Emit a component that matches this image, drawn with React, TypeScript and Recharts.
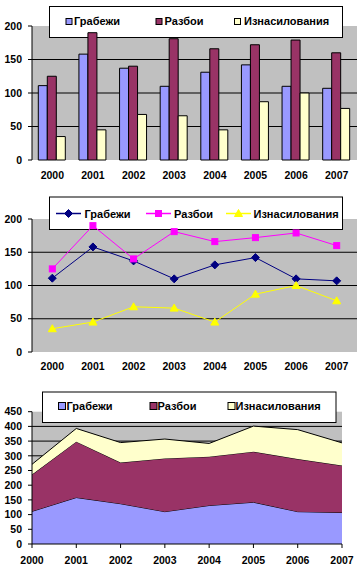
import React from 'react';
import {
  BarChart,
  Bar,
  LineChart,
  Line,
  AreaChart,
  Area,
  XAxis,
  YAxis,
  CartesianGrid,
  Customized,
} from 'recharts';

const years = ['2000', '2001', '2002', '2003', '2004', '2005', '2006', '2007'];
const grabezhi = [111, 158, 137, 110, 131, 142, 110, 107];
const razboi = [125, 190, 140, 181, 166, 172, 179, 160];
const iznasilovaniya = [35, 45, 68, 66, 45, 87, 100, 77];
const seriesNames = ['Грабежи', 'Разбои', 'Изнасилования'];
const ticks200 = [0, 50, 100, 150, 200];
const ticks450 = [0, 50, 100, 150, 200, 250, 300, 350, 400, 450];
const edgeTicks = [0, 1, 2, 3, 4, 5, 6, 7, 8];

const data = years.map((year, i) => ({
  year,
  g: grabezhi[i],
  r: razboi[i],
  z: iznasilovaniya[i],
}));

const FONT = '"Liberation Sans", Arial, sans-serif';
const BAR_COLORS = ['#9999FF', '#993366', '#FFFFCC'];
const LINE_COLORS = ['#000080', '#FF00FF', '#FFFF00'];
const tickStyle = { fill: '#000', fontSize: 10.5, fontWeight: 'bold', fontFamily: FONT };
const blank = () => '';

// markers for the line chart
const Diamond = ({ cx, cy, color }: any) => (
  <polygon points={`${cx},${cy - 4} ${cx + 4},${cy} ${cx},${cy + 4} ${cx - 4},${cy}`} fill={color} stroke={color} />
);
const Square = ({ cx, cy, color }: any) => (
  <rect x={cx - 3} y={cy - 3} width={6} height={6} fill={color} stroke={color} />
);
const Triangle = ({ cx, cy, color }: any) => (
  <polygon points={`${cx},${cy - 4} ${cx + 4},${cy + 3} ${cx - 4},${cy + 3}`} fill={color} stroke={color} />
);
const MARKERS = [Diamond, Square, Triangle];

// legend drawn inside the svg, so series can sit on top of it
const LegendBox = ({ box, items, textY, kind }: any) => (
  <g>
    <rect x={box.x + 0.5} y={box.y + 0.5} width={box.w} height={box.h} fill="#fff" stroke="#000" />
    {items.map((it: any, i: number) => {
      const Marker = MARKERS[i];
      return (
        <g key={i}>
          {kind === 'square' ? (
            <rect x={it.mx + 0.5} y={it.my + 0.5} width={it.ms} height={it.ms} fill={BAR_COLORS[i]} stroke="#000" />
          ) : (
            <g>
              <line x1={it.mx} x2={it.mx + 25} y1={it.my} y2={it.my} stroke={LINE_COLORS[i]} strokeWidth={1.5} />
              <Marker cx={it.mx + 12.5} cy={it.my} color={LINE_COLORS[i]} />
            </g>
          )}
          <text x={it.tx} y={textY} fontFamily={FONT} fontSize={11} fontWeight="bold" fill="#000">
            {seriesNames[i]}
          </text>
        </g>
      );
    })}
  </g>
);

const legendBar = {
  box: { x: 49, y: 6, w: 293, h: 31 },
  textY: 25,
  items: [
    { mx: 65.5, my: 18, ms: 6, tx: 74 },
    { mx: 155.5, my: 18, ms: 6, tx: 164.5 },
    { mx: 234, my: 18, ms: 6, tx: 244 },
  ],
};
const legendLine = {
  box: { x: 49, y: 6.5, w: 293, h: 32.5 },
  textY: 27.5,
  items: [
    { mx: 56, my: 23.5, tx: 84.5 },
    { mx: 146, my: 23.5, tx: 174 },
    { mx: 226, my: 23.5, tx: 253.5 },
  ],
};
const legendArea = {
  box: { x: 42, y: 11.5, w: 293.5, h: 30.5 },
  textY: 30,
  items: [
    { mx: 58, my: 22, ms: 7, tx: 66.5 },
    { mx: 149.5, my: 22, ms: 7, tx: 157.5 },
    { mx: 227.5, my: 22, ms: 7, tx: 235.5 },
  ],
};

export default function App() {
  return (
    <div style={{ position: 'absolute', left: 0, top: 0, width: 362, height: 569, background: '#fff' }}>
      {/* Столбчатая диаграмма */}
      <div style={{ position: 'absolute', left: 0, top: 0 }}>
        <BarChart
          width={362}
          height={190}
          data={data}
          margin={{ top: 26, right: 5, bottom: 0, left: 0 }}
          barCategoryGap="15.5%"
          barGap={0}
        >
          <CartesianGrid fill="#C0C0C0" fillOpacity={1} stroke="#000" vertical={false} horizontalValues={[50, 100, 150]} />
          <Customized component={() => <LegendBox {...legendBar} kind="square" />} />
          <XAxis xAxisId="edge" type="number" domain={[0, 8]} ticks={edgeTicks} allowDataOverflow height={0} tickSize={4} tickFormatter={blank} stroke="#000" />
          <XAxis xAxisId="top" orientation="top" type="number" domain={[0, 1]} height={0} tickLine={false} tickFormatter={blank} stroke="#808080" />
          <XAxis xAxisId="cat" dataKey="year" height={30} axisLine={false} tickLine={false} tickSize={0} tickMargin={11.5} tick={tickStyle} interval={0} />
          <YAxis domain={[0, 200]} ticks={ticks200} width={32} tickSize={4} tickMargin={6} stroke="#000" tick={tickStyle} interval={0} />
          <YAxis yAxisId="border" orientation="right" width={0} tick={false} tickLine={false} stroke="#808080" />
          <Bar xAxisId="cat" dataKey="g" fill={BAR_COLORS[0]} stroke="#000" isAnimationActive={false} />
          <Bar xAxisId="cat" dataKey="r" fill={BAR_COLORS[1]} stroke="#000" isAnimationActive={false} />
          <Bar xAxisId="cat" dataKey="z" fill={BAR_COLORS[2]} stroke="#000" isAnimationActive={false} />
        </BarChart>
      </div>

      {/* Линейная диаграмма */}
      <div style={{ position: 'absolute', left: 0, top: 190 }}>
        <LineChart width={362} height={190} data={data} margin={{ top: 29, right: 5, bottom: 0, left: 0 }}>
          <CartesianGrid fill="#C0C0C0" fillOpacity={1} stroke="#000" vertical={false} horizontalValues={[50, 100, 150]} />
          <Customized component={() => <LegendBox {...legendLine} kind="line" />} />
          <XAxis xAxisId="edge" type="number" domain={[0, 8]} ticks={edgeTicks} allowDataOverflow height={0} tickSize={4} tickFormatter={blank} stroke="#000" />
          <XAxis xAxisId="top" orientation="top" type="number" domain={[0, 1]} height={0} tickLine={false} tickFormatter={blank} stroke="#808080" />
          <XAxis xAxisId="cat" dataKey="year" height={28} padding={{ left: 20.3, right: 20.3 }} axisLine={false} tickLine={false} tickSize={0} tickMargin={11} tick={tickStyle} interval={0} />
          <YAxis domain={[0, 200]} ticks={ticks200} width={32} tickSize={4} tickMargin={6} stroke="#000" tick={tickStyle} interval={0} />
          <YAxis yAxisId="border" orientation="right" width={0} tick={false} tickLine={false} stroke="#808080" />
          {['g', 'r', 'z'].map((key, i) => {
            const Marker = MARKERS[i];
            return (
              <Line
                key={key}
                xAxisId="cat"
                type="linear"
                dataKey={key}
                stroke={LINE_COLORS[i]}
                strokeWidth={1}
                dot={(p: any) => <Marker key={`${key}-${p.index}`} cx={p.cx} cy={p.cy} color={LINE_COLORS[i]} />}
                isAnimationActive={false}
              />
            );
          })}
        </LineChart>
      </div>

      {/* Диаграмма с областями */}
      <div style={{ position: 'absolute', left: 0, top: 380 }}>
        <AreaChart width={362} height={189} data={data} margin={{ top: 31.7, right: 20, bottom: 0, left: 0 }}>
          <CartesianGrid fill="#C0C0C0" fillOpacity={1} stroke="#000" vertical={false} horizontalValues={[50, 100, 150, 200, 250, 300, 350, 400]} />
          <Customized component={() => <LegendBox {...legendArea} kind="square" />} />
          <XAxis xAxisId="top" orientation="top" type="number" domain={[0, 1]} height={0} tickLine={false} tickFormatter={blank} stroke="#808080" />
          <XAxis dataKey="year" height={25} tickSize={4} tickMargin={9} stroke="#000" tick={tickStyle} interval={0} />
          <YAxis domain={[0, 450]} ticks={ticks450} width={32} tickSize={4} tickMargin={6} stroke="#000" tick={tickStyle} interval={0} />
          <YAxis yAxisId="border" orientation="right" width={0} tick={false} tickLine={false} stroke="#808080" />
          {['g', 'r', 'z'].map((key, i) => (
            <Area
              key={key}
              type="linear"
              dataKey={key}
              stackId="1"
              fill={BAR_COLORS[i]}
              fillOpacity={1}
              stroke="#000"
              strokeWidth={1}
              isAnimationActive={false}
            />
          ))}
        </AreaChart>
      </div>
    </div>
  );
}
